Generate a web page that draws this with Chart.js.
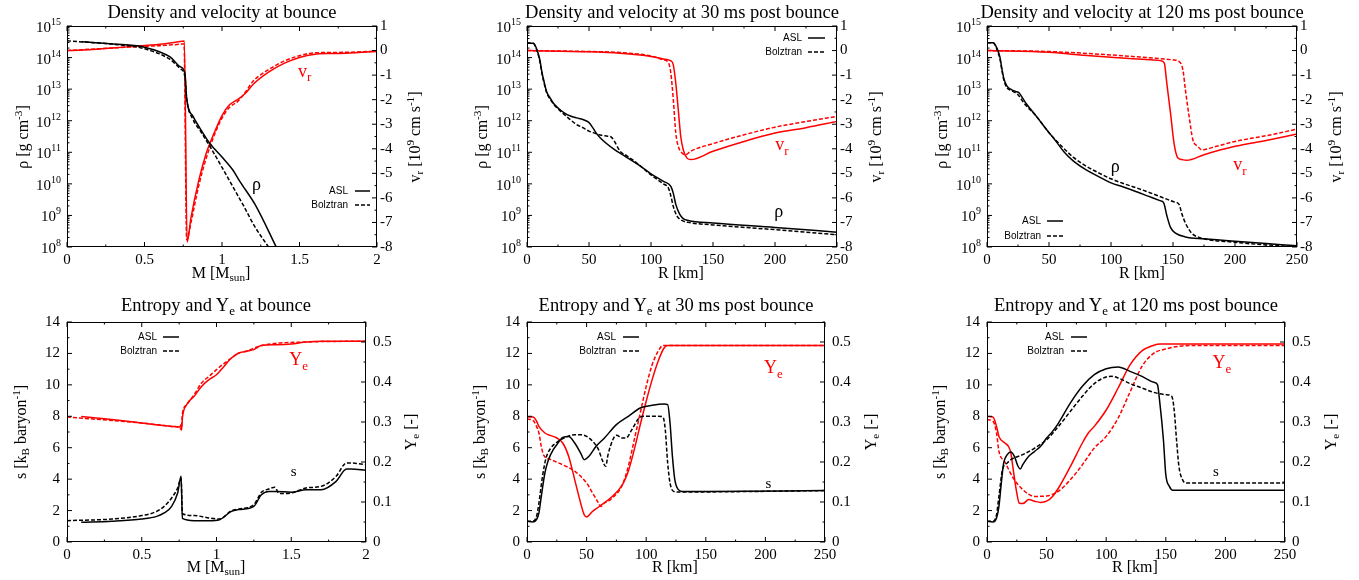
<!DOCTYPE html>
<html>
<head>
<meta charset="utf-8">
<script src="https://cdn.jsdelivr.net/npm/chart.js@4.4.1/dist/chart.umd.min.js"></script>
<style>
  body { margin: 0; background: #fff; }
  #page { position: relative; width: 1359px; height: 580px; overflow: hidden; font-family: "Liberation Serif", "Times New Roman", serif; color: #000; }
  .box { position: absolute; width: 453px; height: 290px; }
  .t { position: absolute; white-space: nowrap; transform: translate(-50%, -50%); line-height: 1; }
  .title { font-size: 18.5px; }
  .ax { font-size: 16px; }
  .rot { transform: translate(-50%, -50%) rotate(-90deg); }
  sub { font-size: 0.7em; vertical-align: -0.3em; line-height: 0; }
  sup { font-size: 0.7em; vertical-align: 0.55em; line-height: 0; }
</style>
</head>
<body>
<div id="page">
  <div class="box" style="left:0;top:0"><canvas id="c1"></canvas></div>
  <div class="box" style="left:453px;top:0"><canvas id="c2"></canvas></div>
  <div class="box" style="left:906px;top:0"><canvas id="c3"></canvas></div>
  <div class="box" style="left:0;top:290px"><canvas id="c4"></canvas></div>
  <div class="box" style="left:453px;top:290px"><canvas id="c5"></canvas></div>
  <div class="box" style="left:906px;top:290px"><canvas id="c6"></canvas></div>

  <div class="t title" style="left:222px;top:12px">Density and velocity at bounce</div>
  <div class="t title" style="left:682px;top:12px">Density and velocity at 30 ms post bounce</div>
  <div class="t title" style="left:1142px;top:12px">Density and velocity at 120 ms post bounce</div>
  <div class="t title" style="left:216px;top:305px">Entropy and Y<sub>e</sub> at bounce</div>
  <div class="t title" style="left:676px;top:305px">Entropy and Y<sub>e</sub> at 30 ms post bounce</div>
  <div class="t title" style="left:1136px;top:305px">Entropy and Y<sub>e</sub> at 120 ms post bounce</div>

  <div class="t ax" style="left:221px;top:273px">M [M<sub>sun</sub>]</div>
  <div class="t ax" style="left:681px;top:273px">R [km]</div>
  <div class="t ax" style="left:1142px;top:273px">R [km]</div>
  <div class="t ax" style="left:216px;top:567px">M [M<sub>sun</sub>]</div>
  <div class="t ax" style="left:675px;top:567px">R [km]</div>
  <div class="t ax" style="left:1135px;top:567px">R [km]</div>

  <div class="t ax rot" style="left:23px;top:137px">ρ [g cm<sup>-3</sup>]</div>
  <div class="t ax rot" style="left:482px;top:137px">ρ [g cm<sup>-3</sup>]</div>
  <div class="t ax rot" style="left:942px;top:137px">ρ [g cm<sup>-3</sup>]</div>
  <div class="t ax rot" style="left:415px;top:137px">v<sub>r</sub> [10<sup>9</sup> cm s<sup>-1</sup>]</div>
  <div class="t ax rot" style="left:876px;top:137px">v<sub>r</sub> [10<sup>9</sup> cm s<sup>-1</sup>]</div>
  <div class="t ax rot" style="left:1336px;top:137px">v<sub>r</sub> [10<sup>9</sup> cm s<sup>-1</sup>]</div>

  <div class="t ax rot" style="left:21px;top:432px">s [k<sub>B</sub> baryon<sup>-1</sup>]</div>
  <div class="t ax rot" style="left:480px;top:432px">s [k<sub>B</sub> baryon<sup>-1</sup>]</div>
  <div class="t ax rot" style="left:940px;top:432px">s [k<sub>B</sub> baryon<sup>-1</sup>]</div>
  <div class="t ax rot" style="left:411px;top:432px">Y<sub>e</sub> [-]</div>
  <div class="t ax rot" style="left:871px;top:432px">Y<sub>e</sub> [-]</div>
  <div class="t ax rot" style="left:1331px;top:432px">Y<sub>e</sub> [-]</div>
</div>

<script>
// tick labels
const massTicks = [0, 0.5, 1, 1.5, 2];
const radiusTicks = [0, 50, 100, 150, 200, 250];
const rhoExponents = [8, 9, 10, 11, 12, 13, 14, 15];   // log10 rho axis, 10^8 .. 10^15
const velTicks = [-8, -7, -6, -5, -4, -3, -2, -1, 0, 1];
const entropyTicks = [0, 2, 4, 6, 8, 10, 12, 14];
const yeTicks = [0, 0.1, 0.2, 0.3, 0.4, 0.5];
const legendNames = ["ASL", "Bolztran"];

// --- density (log10) and velocity at bounce, x = mass
const bncRhoAslM = [0.095, 0.3, 0.49, 0.665, 0.73, 0.761, 0.772, 0.815, 0.858, 0.923, 1.0, 1.07, 1.115, 1.22, 1.35];
const bncRhoAsl = [14.5, 14.43, 14.34, 14.02, 13.71, 13.5, 12.71, 12.12, 11.76, 11.27, 10.85, 10.44, 10.08, 9.29, 8.0];
const bncRhoBolM = [0.0, 0.3, 0.49, 0.665, 0.73, 0.761, 0.772, 0.815, 0.86, 0.93, 1.0, 1.07, 1.14, 1.21, 1.30];
const bncRhoBol = [14.53, 14.42, 14.29, 13.94, 13.65, 13.39, 12.71, 12.02, 11.68, 11.12, 10.52, 9.91, 9.3, 8.66, 8.0];
const bncVAslM = [0.0, 0.1, 0.4, 0.6, 0.7, 0.757, 0.775, 0.8, 0.85, 0.9, 0.95, 1.0, 1.05, 1.1, 1.15, 1.2, 1.3, 1.4, 1.5, 1.6, 1.7, 1.8, 1.9, 2.0];
const bncVAsl = [0.0, 0.02, 0.16, 0.26, 0.34, 0.39, -7.8, -6.8, -5.3, -4.15, -3.35, -2.65, -2.2, -2.0, -1.75, -1.38, -0.88, -0.52, -0.28, -0.15, -0.12, -0.11, -0.07, -0.04];
const bncVBolM = [0.0, 0.4, 0.6, 0.7, 0.755, 0.772, 0.8, 0.85, 0.9, 0.95, 1.0, 1.05, 1.1, 1.15, 1.2, 1.3, 1.4, 1.5, 1.6, 1.7, 1.8, 1.9, 2.0];
const bncVBol = [0.0, 0.14, 0.2, 0.24, 0.27, -7.7, -7.0, -5.5, -4.35, -3.45, -2.75, -2.3, -2.08, -1.7, -1.25, -0.78, -0.43, -0.21, -0.09, -0.08, -0.07, -0.05, -0.02];

// --- 30 ms post bounce, x = radius
const r30RhoAslR = [0, 5, 7, 9, 10.5, 12, 14, 16, 19, 22, 26, 30, 35, 40, 45, 48, 50, 53, 56, 60, 70, 80, 90, 100, 110, 116, 118, 120, 123, 126, 130, 150, 200, 250];
const r30RhoAsl = [14.45, 14.45, 14.35, 14.13, 13.9, 13.55, 13.2, 12.9, 12.7, 12.52, 12.37, 12.25, 12.15, 12.09, 12.04, 11.99, 11.94, 11.78, 11.6, 11.42, 11.1, 10.85, 10.6, 10.32, 10.08, 9.92, 9.7, 9.35, 9.05, 8.9, 8.84, 8.76, 8.62, 8.47];
const r30RhoBolR = [0, 5, 7, 9, 10.5, 12, 14, 16, 19, 22, 26, 30, 35, 40, 45, 50, 55, 60, 65, 68, 70, 75, 80, 86, 92, 100, 110, 114, 116, 118, 121, 125, 130, 150, 200, 250];
const r30RhoBol = [14.45, 14.45, 14.33, 14.1, 13.85, 13.5, 13.15, 12.87, 12.66, 12.5, 12.34, 12.2, 12.03, 11.88, 11.78, 11.67, 11.6, 11.54, 11.51, 11.48, 11.38, 11.04, 10.9, 10.74, 10.55, 10.28, 10.0, 9.87, 9.62, 9.28, 8.98, 8.84, 8.78, 8.7, 8.55, 8.39];
const r30VAslR = [0, 50, 75, 100, 110, 116, 118, 120, 122, 124, 126, 129, 132, 150, 175, 200, 225, 250];
const r30VAsl = [0, -0.05, -0.11, -0.24, -0.34, -0.42, -0.58, -1.33, -2.41, -3.5, -4.04, -4.38, -4.44, -4.1, -3.7, -3.36, -3.14, -2.89];
const r30VBolR = [0, 50, 75, 100, 110, 114, 116, 118, 120, 122, 125, 128, 132, 150, 175, 200, 225, 250];
const r30VBol = [0, -0.04, -0.08, -0.22, -0.38, -0.49, -0.92, -2.0, -3.36, -3.9, -4.17, -4.24, -4.1, -3.79, -3.43, -3.12, -2.89, -2.68];

// --- 120 ms post bounce
const r120RhoAslR = [0, 5, 7, 9, 10.5, 12, 13.5, 16, 20, 23, 26, 29, 32, 40, 48, 55, 62, 70, 80, 90, 100, 110, 120, 130, 140, 142.5, 145, 148, 152, 160, 175, 200, 225, 250];
const r120RhoAsl = [14.47, 14.47, 14.38, 14.2, 14.0, 13.65, 13.35, 13.1, 12.98, 12.93, 12.88, 12.7, 12.52, 12.13, 11.72, 11.38, 11.02, 10.71, 10.44, 10.23, 10.03, 9.9, 9.76, 9.61, 9.46, 9.4, 9.0, 8.62, 8.44, 8.32, 8.26, 8.18, 8.11, 8.04];
const r120RhoBolR = [0, 5, 7, 9, 10.5, 12, 13.5, 16, 20, 25, 30, 40, 50, 60, 70, 80, 90, 100, 110, 120, 130, 140, 150, 155, 157, 160, 165, 170, 200, 250];
const r120RhoBol = [14.47, 14.47, 14.36, 14.15, 13.95, 13.6, 13.3, 13.05, 12.95, 12.82, 12.55, 12.13, 11.62, 11.2, 10.83, 10.56, 10.35, 10.16, 10.01, 9.88, 9.74, 9.59, 9.44, 9.34, 9.07, 8.76, 8.44, 8.32, 8.15, 8.0];
const r120VAslR = [0, 50, 75, 100, 125, 140, 143, 145, 148, 151, 154, 157, 161, 175, 200, 225, 250];
const r120VAsl = [0, -0.07, -0.18, -0.27, -0.35, -0.41, -0.51, -1.33, -2.55, -3.83, -4.38, -4.44, -4.47, -4.24, -3.9, -3.66, -3.4];
const r120VBolR = [0, 50, 100, 125, 150, 155, 158, 160, 163, 166, 170, 173, 185, 200, 225, 250];
const r120VBol = [0, -0.04, -0.18, -0.27, -0.38, -0.45, -0.79, -1.6, -2.68, -3.63, -3.9, -4.04, -3.9, -3.7, -3.47, -3.2];

// --- entropy and Ye at bounce
const bncSAslM = [0.095, 0.3, 0.5, 0.6, 0.65, 0.7, 0.74, 0.763, 0.772, 0.85, 0.95, 1.02, 1.1, 1.15, 1.25, 1.3, 1.35, 1.4, 1.5, 1.6, 1.7, 1.8, 1.87, 1.9, 2.0];
const bncSAsl = [1.25, 1.32, 1.46, 1.63, 1.85, 2.27, 3.12, 4.18, 1.5, 1.36, 1.36, 1.42, 1.95, 2.06, 2.27, 3.01, 3.22, 3.22, 3.16, 3.33, 3.33, 3.86, 4.65, 4.65, 4.56];
const bncSBolM = [0, 0.3, 0.5, 0.6, 0.65, 0.7, 0.74, 0.763, 0.772, 0.85, 0.95, 1.02, 1.1, 1.15, 1.25, 1.3, 1.35, 1.39, 1.42, 1.5, 1.6, 1.7, 1.8, 1.87, 1.9, 2.0];
const bncSBol = [1.36, 1.46, 1.68, 1.95, 2.27, 2.8, 3.44, 4.07, 1.8, 1.68, 1.53, 1.46, 1.99, 2.1, 2.38, 3.16, 3.37, 3.48, 3.08, 3.12, 3.44, 3.54, 4.18, 5.03, 5.03, 4.92];
const bncYeAslM = [0.095, 0.3, 0.5, 0.7, 0.755, 0.762, 0.767, 0.772, 0.8, 0.85, 0.9, 0.95, 1.0, 1.05, 1.1, 1.15, 1.2, 1.25, 1.3, 1.4, 1.5, 1.6, 1.7, 2.0];
const bncYeAsl = [0.314, 0.306, 0.2975, 0.289, 0.2875, 0.293, 0.2825, 0.31, 0.343, 0.364, 0.389, 0.406, 0.418, 0.439, 0.46, 0.4725, 0.477, 0.481, 0.491, 0.493, 0.495, 0.5, 0.502, 0.502];
const bncYeBolM = [0, 0.5, 0.7, 0.755, 0.765, 0.772, 0.8, 0.85, 0.9, 0.95, 1.0, 1.05, 1.1, 1.15, 1.2, 1.3, 1.6, 2.0];
const bncYeBol = [0.3125, 0.2975, 0.289, 0.285, 0.28, 0.32, 0.343, 0.368, 0.3975, 0.414, 0.431, 0.446, 0.46, 0.4725, 0.477, 0.491, 0.5, 0.502];

// --- entropy and Ye at 30 ms
const r30SAslR = [0, 5, 8, 10, 12, 15, 18, 22, 25, 30, 35, 40, 45, 48, 52, 58, 65, 75, 85, 95, 105, 115, 118, 120, 122, 124, 127, 130, 150, 250];
const r30SAsl = [1.32, 1.27, 1.42, 1.85, 2.91, 4.39, 5.24, 5.88, 6.19, 6.66, 6.72, 6.3, 5.66, 5.24, 5.45, 6.09, 6.62, 7.47, 8.0, 8.53, 8.7, 8.78, 8.74, 7.57, 5.45, 3.97, 3.33, 3.22, 3.22, 3.27];
const r30SBolR = [0, 5, 8, 10, 13, 16, 20, 25, 30, 40, 45, 50, 55, 60, 63, 66, 68, 72, 75, 80, 83, 88, 93, 97, 110, 114, 116, 118, 120, 123, 126, 250];
const r30SBol = [1.32, 1.32, 1.63, 2.48, 4.18, 5.35, 5.98, 6.34, 6.58, 6.83, 6.83, 6.72, 6.41, 5.88, 5.24, 4.82, 5.56, 6.51, 6.79, 6.62, 6.62, 7.15, 7.79, 8.0, 8.0, 7.96, 7.15, 5.03, 3.75, 3.22, 3.18, 3.27];
const r30YeAslR = [0, 5, 8, 10, 15, 20, 25, 30, 35, 40, 45, 48, 50, 55, 60, 70, 80, 85, 90, 95, 100, 105, 110, 115, 118, 250];
const r30YeAsl = [0.3125, 0.3125, 0.302, 0.289, 0.2725, 0.266, 0.26, 0.2475, 0.214, 0.156, 0.0975, 0.068, 0.0625, 0.0767, 0.0875, 0.11, 0.143, 0.177, 0.231, 0.293, 0.352, 0.406, 0.452, 0.485, 0.491, 0.491];
const r30YeBolR = [0, 5, 8, 10, 12, 14, 20, 30, 40, 50, 55, 60, 62, 65, 70, 80, 85, 90, 95, 100, 105, 110, 114, 250];
const r30YeBol = [0.3075, 0.304, 0.289, 0.2725, 0.239, 0.217, 0.206, 0.193, 0.177, 0.1475, 0.1225, 0.0975, 0.089, 0.0975, 0.106, 0.143, 0.189, 0.256, 0.3225, 0.389, 0.443, 0.477, 0.491, 0.491];

// --- entropy and Ye at 120 ms
const r120SAslR = [0, 5, 8, 10, 12, 14, 17, 20, 23, 26, 28, 30, 35, 40, 45, 50, 55, 60, 70, 80, 90, 100, 110, 120, 130, 140, 143, 145, 148, 150, 153, 156, 250];
const r120SAsl = [1.32, 1.27, 1.53, 2.27, 3.75, 5.03, 5.56, 5.73, 5.45, 4.82, 4.65, 4.92, 5.45, 5.77, 6.09, 6.62, 7.04, 7.57, 8.85, 9.91, 10.65, 11.03, 11.14, 10.86, 10.54, 10.16, 10.01, 8.85, 6.51, 4.29, 3.54, 3.29, 3.29];
const r120SBolR = [0, 5, 8, 10, 13, 17, 20, 30, 40, 50, 60, 70, 80, 90, 100, 105, 110, 120, 130, 140, 150, 155, 157, 159, 161, 164, 167, 250];
const r120SBol = [1.32, 1.32, 1.74, 2.91, 4.6, 5.03, 5.24, 5.56, 5.98, 6.51, 7.36, 8.32, 9.27, 10.08, 10.5, 10.54, 10.44, 10.08, 9.8, 9.52, 9.38, 9.27, 8.42, 6.51, 4.82, 3.97, 3.75, 3.75];
const r120YeAslR = [0, 5, 8, 10, 15, 18, 20, 22, 25, 27, 30, 35, 40, 45, 50, 55, 60, 70, 80, 85, 90, 100, 110, 120, 130, 140, 145, 250];
const r120YeAsl = [0.314, 0.3125, 0.289, 0.264, 0.2475, 0.239, 0.2225, 0.181, 0.1225, 0.0975, 0.096, 0.106, 0.102, 0.099, 0.102, 0.114, 0.135, 0.189, 0.2475, 0.2725, 0.289, 0.33, 0.385, 0.443, 0.478, 0.492, 0.495, 0.495];
const r120YeBolR = [0, 5, 8, 10, 15, 22, 30, 40, 50, 60, 70, 80, 90, 100, 110, 120, 130, 140, 150, 160, 170, 250];
const r120YeBol = [0.306, 0.302, 0.2725, 0.227, 0.2, 0.16, 0.131, 0.114, 0.115, 0.127, 0.156, 0.193, 0.235, 0.264, 0.31, 0.375, 0.439, 0.472, 0.4825, 0.489, 0.491, 0.491];

const SERIF = '"Liberation Serif", "Times New Roman", serif';
const SANS = '"Liberation Sans", Arial, sans-serif';
const RED = "#ff0000";
const BLACK = "#000000";

function series(xs, ys, color, dashed, axis, isLog) {
  return {
    data: xs.map((x, i) => ({ x: x, y: isLog ? Math.pow(10, ys[i]) : ys[i] })),
    borderColor: color,
    borderWidth: 1.5,
    borderDash: dashed ? [4, 2] : [],
    pointRadius: 0,
    fill: false,
    cubicInterpolationMode: "monotone",
    yAxisID: axis
  };
}

// gnuplot-ish frame: box, inward ticks (mirrored x), log labels, legend, curve labels
const gnuFrame = {
  id: "gnu",
  afterDraw(chart, args, o) {
    const ctx = chart.ctx, a = chart.chartArea, sc = chart.scales;
    ctx.save();
    ctx.strokeStyle = BLACK;
    ctx.lineWidth = 1;
    const seg = (x1, y1, x2, y2) => { ctx.beginPath(); ctx.moveTo(x1, y1); ctx.lineTo(x2, y2); ctx.stroke(); };
    const walk = (scale, majors, step, fn) => {
      const n = Math.round((scale.max - scale.min) / step);
      for (let i = 0; i <= n; i++) {
        const v = scale.min + i * step;
        const major = majors.some(m => Math.abs(m - v) < step * 0.01);
        fn(scale.getPixelForValue(v), major);
      }
    };
    const MAJ = 5, MIN = 2.5;

    walk(sc.x, o.xTicks, o.xMinor, (px, major) => {
      const l = major ? MAJ : MIN;
      seg(px, a.bottom, px, a.bottom - l);
      seg(px, a.top, px, a.top + l);
    });

    if (o.logLeft) {
      rhoExponents.forEach((e, idx) => {
        const py = sc.y.getPixelForValue(Math.pow(10, e));
        seg(a.left, py, a.left + MAJ, py);
        if (idx < rhoExponents.length - 1) {
          for (let k = 2; k <= 9; k++) {
            const pm = sc.y.getPixelForValue(k * Math.pow(10, e));
            seg(a.left, pm, a.left + MIN, pm);
          }
        }
        // label 10^e
        ctx.fillStyle = BLACK;
        ctx.textBaseline = "alphabetic";
        ctx.textAlign = "left";
        ctx.font = "10px " + SERIF;
        const ew = ctx.measureText(String(e)).width;
        ctx.font = "15px " + SERIF;
        const bw = ctx.measureText("10").width;
        const xEnd = a.left - 6;
        ctx.fillText("10", xEnd - ew - bw, py + 6);
        ctx.font = "10px " + SERIF;
        ctx.fillText(String(e), xEnd - ew, py - 1);
      });
    } else {
      walk(sc.y, o.yTicks, o.yMinor, (py, major) => seg(a.left, py, a.left + (major ? MAJ : MIN), py));
    }
    walk(sc.y2, o.y2Ticks, o.y2Minor, (py, major) => seg(a.right, py, a.right - (major ? MAJ : MIN), py));

    ctx.strokeRect(Math.round(a.left) + 0.5, Math.round(a.top) + 0.5, Math.round(a.right - a.left) - 1, Math.round(a.bottom - a.top) - 1);

    // legend
    const lg = o.legend;
    ctx.font = "10px " + SANS;
    ctx.textAlign = "right";
    ctx.textBaseline = "middle";
    ctx.fillStyle = BLACK;
    ctx.lineWidth = 1.5;
    legendNames.forEach((name, i) => {
      const y = a.top + lg.y + i * lg.dy;
      ctx.fillText(name, a.left + lg.tx, y);
      ctx.setLineDash(i === 0 ? [] : [4, 2]);
      seg(a.left + lg.x1, y, a.left + lg.x2, y);
    });
    ctx.setLineDash([]);

    // curve labels, placed in data coordinates
    o.labels.forEach(lb => {
      const px = sc.x.getPixelForValue(lb.x);
      const py = sc[lb.axis].getPixelForValue(lb.y);
      ctx.fillStyle = lb.color;
      ctx.textAlign = "left";
      ctx.textBaseline = "alphabetic";
      ctx.font = lb.size + "px " + SERIF;
      const w1 = ctx.measureText(lb.text).width;
      let w2 = 0;
      if (lb.sub) {
        ctx.font = Math.round(lb.size * 0.7) + "px " + SERIF;
        w2 = ctx.measureText(lb.sub).width;
      }
      const x0 = px - (w1 + w2) / 2;
      ctx.font = lb.size + "px " + SERIF;
      ctx.fillText(lb.text, x0, py + lb.size * 0.3);
      if (lb.sub) {
        ctx.font = Math.round(lb.size * 0.7) + "px " + SERIF;
        ctx.fillText(lb.sub, x0 + w1, py + lb.size * 0.55);
      }
    });
    ctx.restore();
  }
};

const tickFont = { family: SERIF, size: 15 };
const noGrid = { display: false, drawTicks: false, tickLength: 0 };
const plainLabel = v => String(Math.round(v * 100) / 100);

function fixedTicks(arr) {
  return s => { s.ticks = arr.map(v => ({ value: v })); };
}

function makePanel(id, geo, xTicks, left, right, datasets, frame) {
  const xs = {
    type: "linear", position: "bottom",
    min: xTicks[0], max: xTicks[xTicks.length - 1],
    grid: noGrid, border: { display: false },
    ticks: { font: tickFont, color: BLACK, padding: 4, maxRotation: 0, autoSkip: false, callback: plainLabel },
    afterBuildTicks: fixedTicks(xTicks),
    afterFit: s => { s.height = geo.B; }
  };
  let ys;
  if (left.log) {
    ys = {
      type: "logarithmic", position: "left",
      min: Math.pow(10, rhoExponents[0]), max: Math.pow(10, rhoExponents[rhoExponents.length - 1]),
      grid: noGrid, border: { display: false },
      ticks: { display: false },
      afterFit: s => { s.width = geo.L; }
    };
  } else {
    ys = {
      type: "linear", position: "left",
      min: left.ticks[0], max: left.max,
      grid: noGrid, border: { display: false },
      ticks: { font: tickFont, color: BLACK, padding: 7, includeBounds: false, callback: plainLabel },
      afterBuildTicks: fixedTicks(left.ticks),
      afterFit: s => { s.width = geo.L; }
    };
  }
  const y2s = {
    type: "linear", position: "right",
    min: right.ticks[0], max: right.max,
    grid: noGrid, border: { display: false },
    ticks: { font: tickFont, color: BLACK, padding: right.pad, includeBounds: false, callback: plainLabel },
    afterBuildTicks: fixedTicks(right.ticks),
    afterFit: s => { s.width = geo.R; }
  };
  return new Chart(document.getElementById(id), {
    type: "line",
    data: { datasets: datasets },
    options: {
      responsive: true,
      maintainAspectRatio: false,
      animation: false,
      layout: { padding: { top: geo.T, left: 0, right: 0, bottom: 0 } },
      scales: { x: xs, y: ys, y2: y2s },
      plugins: {
        legend: { display: false },
        tooltip: { enabled: false },
        title: { display: false },
        gnu: frame
      }
    },
    plugins: [gnuFrame]
  });
}

const rhoAxis = { log: true };
const velAxis = { ticks: velTicks, max: 1, pad: 3 };
const sAxis = { ticks: entropyTicks, max: 14 };
const yeAxis = { ticks: yeTicks, max: 0.55, pad: 7 };

makePanel("c1", { L: 67, R: 76, T: 26, B: 43 }, massTicks, rhoAxis, velAxis, [
  series(bncRhoAslM, bncRhoAsl, BLACK, false, "y", true),
  series(bncRhoBolM, bncRhoBol, BLACK, true, "y", true),
  series(bncVAslM, bncVAsl, RED, false, "y2"),
  series(bncVBolM, bncVBol, RED, true, "y2")
], {
  logLeft: true, xTicks: massTicks, xMinor: 0.25, y2Ticks: velTicks, y2Minor: 0.5,
  legend: { tx: 281, x1: 288, x2: 303, y: 165, dy: 14 },
  labels: [
    { text: "v", sub: "r", color: RED, x: 1.534, y: -0.85, axis: "y2", size: 18 },
    { text: "ρ", color: BLACK, x: 1.223, y: Math.pow(10, 9.97), axis: "y", size: 18 }
  ]
});

makePanel("c2", { L: 74, R: 69, T: 26, B: 43 }, radiusTicks, rhoAxis, velAxis, [
  series(r30RhoAslR, r30RhoAsl, BLACK, false, "y", true),
  series(r30RhoBolR, r30RhoBol, BLACK, true, "y", true),
  series(r30VAslR, r30VAsl, RED, false, "y2"),
  series(r30VBolR, r30VBol, RED, true, "y2")
], {
  logLeft: true, xTicks: radiusTicks, xMinor: 25, y2Ticks: velTicks, y2Minor: 0.5,
  legend: { tx: 275, x1: 281, x2: 298, y: 12, dy: 14 },
  labels: [
    { text: "v", sub: "r", color: RED, x: 205.6, y: -3.83, axis: "y2", size: 18 },
    { text: "ρ", color: BLACK, x: 203, y: Math.pow(10, 9.13), axis: "y", size: 18 }
  ]
});

makePanel("c3", { L: 81, R: 62, T: 26, B: 43 }, radiusTicks, rhoAxis, velAxis, [
  series(r120RhoAslR, r120RhoAsl, BLACK, false, "y", true),
  series(r120RhoBolR, r120RhoBol, BLACK, true, "y", true),
  series(r120VAslR, r120VAsl, RED, false, "y2"),
  series(r120VBolR, r120VBol, RED, true, "y2")
], {
  logLeft: true, xTicks: radiusTicks, xMinor: 25, y2Ticks: velTicks, y2Minor: 0.5,
  legend: { tx: 54, x1: 60, x2: 76, y: 195, dy: 15 },
  labels: [
    { text: "v", sub: "r", color: RED, x: 204, y: -4.65, axis: "y2", size: 18 },
    { text: "ρ", color: BLACK, x: 103.5, y: Math.pow(10, 10.55), axis: "y", size: 18 }
  ]
});

makePanel("c4", { L: 67, R: 87, T: 32, B: 38 }, massTicks, sAxis, yeAxis, [
  series(bncSAslM, bncSAsl, BLACK, false, "y"),
  series(bncSBolM, bncSBol, BLACK, true, "y"),
  series(bncYeAslM, bncYeAsl, RED, false, "y2"),
  series(bncYeBolM, bncYeBol, RED, true, "y2")
], {
  xTicks: massTicks, xMinor: 0.25, yTicks: entropyTicks, yMinor: 1, y2Ticks: yeTicks, y2Minor: 0.05,
  legend: { tx: 90, x1: 96, x2: 112, y: 15, dy: 14 },
  labels: [
    { text: "Y", sub: "e", color: RED, x: 1.55, y: 0.456, axis: "y2", size: 18 },
    { text: "s", color: BLACK, x: 1.516, y: 4.5, axis: "y", size: 15 }
  ]
});

makePanel("c5", { L: 74, R: 81, T: 32, B: 38 }, radiusTicks, sAxis, yeAxis, [
  series(r30SAslR, r30SAsl, BLACK, false, "y"),
  series(r30SBolR, r30SBol, BLACK, true, "y"),
  series(r30YeAslR, r30YeAsl, RED, false, "y2"),
  series(r30YeBolR, r30YeBol, RED, true, "y2")
], {
  xTicks: radiusTicks, xMinor: 25, yTicks: entropyTicks, yMinor: 1, y2Ticks: yeTicks, y2Minor: 0.05,
  legend: { tx: 89, x1: 96, x2: 112, y: 15, dy: 14 },
  labels: [
    { text: "Y", sub: "e", color: RED, x: 206.7, y: 0.435, axis: "y2", size: 18 },
    { text: "s", color: BLACK, x: 202.5, y: 3.75, axis: "y", size: 15 }
  ]
});

makePanel("c6", { L: 81, R: 74, T: 32, B: 38 }, radiusTicks, sAxis, yeAxis, [
  series(r120SAslR, r120SAsl, BLACK, false, "y"),
  series(r120SBolR, r120SBol, BLACK, true, "y"),
  series(r120YeAslR, r120YeAsl, RED, false, "y2"),
  series(r120YeBolR, r120YeBol, RED, true, "y2")
], {
  xTicks: radiusTicks, xMinor: 25, yTicks: entropyTicks, yMinor: 1, y2Ticks: yeTicks, y2Minor: 0.05,
  legend: { tx: 77, x1: 84, x2: 100, y: 15, dy: 14 },
  labels: [
    { text: "Y", sub: "e", color: RED, x: 197, y: 0.4475, axis: "y2", size: 18 },
    { text: "s", color: BLACK, x: 192, y: 4.5, axis: "y", size: 15 }
  ]
});
</script>
</body>
</html>
